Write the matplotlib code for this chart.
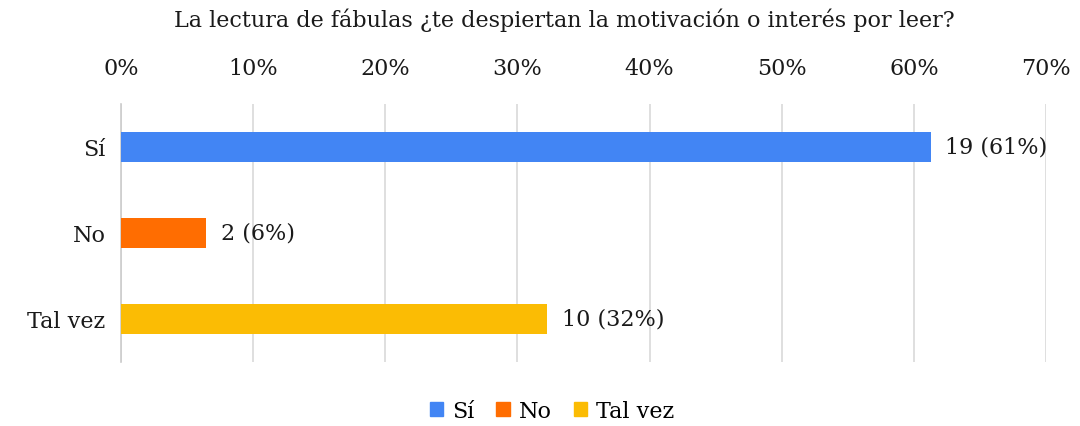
import matplotlib
matplotlib.use("Agg")
import matplotlib.pyplot as plt
from matplotlib.patches import Patch

categories = ["Sí", "No", "Tal vez"]
counts = [19, 2, 10]
total = 31
colors = ["#4285F4", "#FF6D01", "#FBBC04"]
xticks = [0, 0.1, 0.2, 0.3, 0.4, 0.5, 0.6, 0.7]

plt.rcParams['font.family'] = ['DejaVu Serif']
FS = 16
TC = "#1a1a1a"

fig = plt.figure(figsize=(10.8, 4.27), dpi=100)
ax = fig.add_axes([121/1080, 1-363/427, (1046-121)/1080, (363-105)/427])

pcts = [c/total for c in counts]
ypos = list(range(len(categories)))
ax.barh(ypos, pcts, height=0.35, color=colors, zorder=3)
ax.set_ylim(len(categories)-0.5, -0.5)
ax.set_xlim(0, 0.7)
ax.set_yticks(ypos)
ax.set_yticklabels(categories, fontsize=FS, color=TC)
ax.set_xticks(xticks)
ax.set_xticklabels([f"{int(round(t*100))}%" for t in xticks], fontsize=FS, color=TC)
ax.xaxis.tick_top()
ax.tick_params(axis='y', length=0, pad=11)
ax.tick_params(axis='x', length=0, pad=18)
for s in ["top", "right", "bottom"]:
    ax.spines[s].set_visible(False)
ax.spines["left"].set_color("#cccccc")
ax.spines["left"].set_linewidth(1.2)
ax.grid(axis='x', color="#d9d9d9", linewidth=1.2, zorder=0)
ax.set_axisbelow(True)

for y, c, p in zip(ypos, counts, pcts):
    ax.text(p + 0.011, y, f"{c} ({round(p*100)}%)", va="center", ha="left", fontsize=FS, color=TC)

fig.text(564/1080, 1-20/427, "La lectura de fábulas ¿te despiertan la motivación o interés por leer?",
         ha="center", va="center", fontsize=FS, color=TC)

handles = [Patch(color=c) for c in colors]
fig.legend(handles, categories, loc="center", bbox_to_anchor=(552/1080, 1-412/427), ncol=3, frameon=False,
           fontsize=FS, handlelength=0.6, handleheight=0.6, handletextpad=0.4, columnspacing=1.0)

fig.savefig("out.png", dpi=100)
